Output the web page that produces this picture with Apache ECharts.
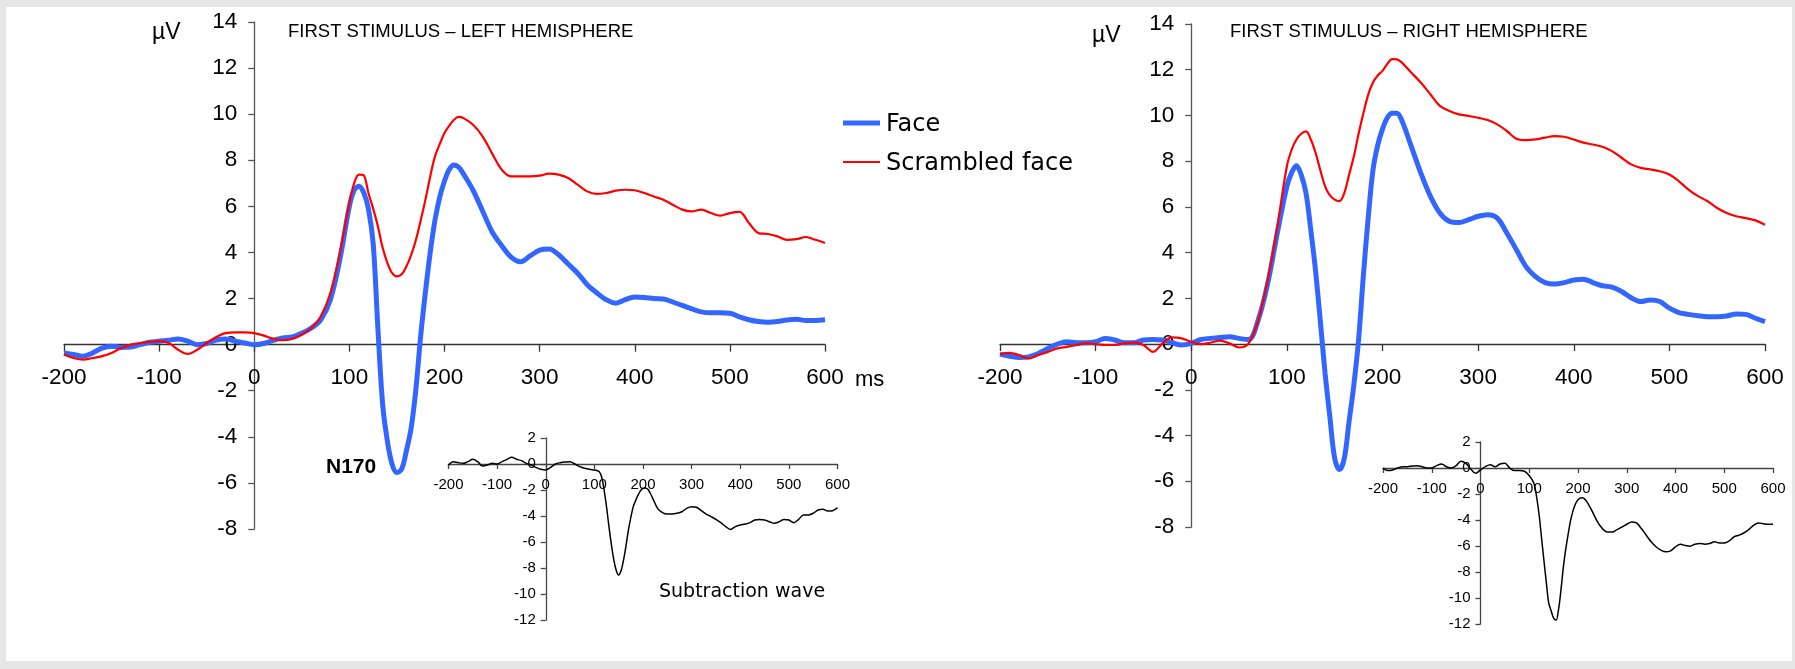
<!DOCTYPE html>
<html>
<head>
<meta charset="utf-8">
<title>ERP – first stimulus</title>
<script src="https://cdn.jsdelivr.net/npm/echarts@6/dist/echarts.min.js"></script>
<style>
  html, body { margin: 0; padding: 0; width: 1795px; height: 669px; overflow: hidden; background: #e6e6e6; }
  #frame { position: absolute; left: 6px; top: 7px; right: 3px; bottom: 8px; background: #ffffff; }
  #chart { position: absolute; left: 0; top: 0; width: 1795px; height: 669px; }
</style>
</head>
<body>
<div id="frame"></div>
<div id="chart"></div>
<script>
// Sample times (ms); denser around the N170 window
const times = [-200,-190,-180,-170,-160,-150,-140,-130,-120,-110,-100,-90,-80,-70,-60,-50,-40,-30,-20,-10,0,10,20,30,40,50,60,70,80,90,
  100,105,110,115,120,125,130,135,140,145,150,155,160,165,170,175,180,185,190,195,200,205,210,215,
  220,230,240,250,260,270,280,290,300,310,320,330,340,350,360,370,380,390,400,410,420,430,440,450,460,470,480,490,500,510,520,530,540,550,560,570,580,590,600];

// Left hemisphere (µV)
const leftFace = [-0.36,-0.43,-0.5,-0.36,-0.15,-0.07,-0.12,-0.1,0,0.1,0.15,0.19,0.25,0.15,0,0.05,0.2,0.25,0.15,0.07,0,0.05,0.19,0.29,0.33,0.5,0.72,1.08,1.95,3.7,
  6.0,6.7,6.87,6.6,5.9,4.4,0.7,-2.6,-4.2,-5.2,-5.55,-5.4,-4.6,-3.6,-1.9,0.4,2.3,4.0,5.4,6.4,7.1,7.6,7.8,7.7,
  7.4,6.7,5.8,4.9,4.3,3.8,3.6,3.85,4.1,4.15,3.9,3.5,3.1,2.6,2.25,1.95,1.8,1.95,2.07,2.05,2.0,1.98,1.85,1.7,1.55,1.42,1.38,1.38,1.36,1.2,1.08,1.0,0.97,1.0,1.07,1.1,1.05,1.05,1.08];
const leftScrambled = [-0.43,-0.58,-0.65,-0.58,-0.5,-0.36,-0.15,0,0.07,0.12,0.15,0.07,-0.22,-0.4,-0.22,0.07,0.33,0.5,0.53,0.53,0.5,0.39,0.25,0.19,0.25,0.43,0.72,1.23,2.24,4.0,
  6.15,7.0,7.38,7.35,6.58,5.9,5.13,4.2,3.54,3.1,2.96,3.05,3.4,3.9,4.55,5.4,6.3,7.3,8.17,8.7,9.18,9.5,9.76,9.88,
  9.83,9.54,9.04,8.3,7.6,7.3,7.3,7.3,7.33,7.42,7.38,7.23,6.94,6.65,6.54,6.58,6.68,6.72,6.7,6.58,6.43,6.29,6.07,5.86,5.78,5.86,5.71,5.6,5.71,5.76,5.28,4.84,4.8,4.7,4.55,4.58,4.67,4.55,4.41];
const leftDiff = [-0.08,0.18,0.1,0.05,0.18,0.36,0.18,-0.15,-0.08,0.05,0,0.18,0.36,0.51,0.36,0.26,0.05,-0.08,-0.26,-0.41,-0.46,-0.26,0,0.1,0.15,0.18,0,-0.2,-0.33,-0.41,
  -0.46,-0.5,-0.59,-1.0,-2.0,-3.3,-4.82,-6.2,-7.38,-8.2,-8.54,-8.2,-7.38,-6.3,-5.08,-4.1,-3.28,-2.8,-2.38,-2.05,-1.87,-1.85,-1.95,-2.25,
  -2.64,-3.41,-3.74,-3.85,-3.85,-3.79,-3.67,-3.41,-3.28,-3.33,-3.59,-3.85,-4.05,-4.26,-4.51,-4.82,-5.03,-4.82,-4.69,-4.62,-4.51,-4.31,-4.26,-4.31,-4.44,-4.56,-4.44,-4.26,-4.31,-4.51,-4.26,-3.92,-3.92,-3.79,-3.54,-3.49,-3.62,-3.59,-3.36];

// Right hemisphere (µV)
const rightFace = [-0.44,-0.53,-0.59,-0.56,-0.41,-0.19,0,0.1,0.06,0.06,0.1,0.25,0.18,0.06,0.06,0.18,0.2,0.18,0.06,-0.04,0.03,0.2,0.25,0.29,0.32,0.25,0.2,1.05,2.66,4.86,
  6.9,7.5,7.8,7.4,6.6,5.0,3.2,1.0,-1.3,-3.2,-5.0,-5.49,-5.0,-3.4,-1.8,0.2,3.0,5.5,7.6,8.7,9.4,9.9,10.1,10.1,
  9.8,8.66,7.49,6.47,5.73,5.37,5.32,5.44,5.59,5.66,5.51,4.86,4.13,3.39,2.95,2.69,2.63,2.69,2.8,2.84,2.69,2.55,2.49,2.3,2.03,1.86,1.93,1.86,1.57,1.38,1.3,1.24,1.2,1.2,1.23,1.32,1.3,1.13,0.98];
const rightScrambled = [-0.44,-0.38,-0.48,-0.63,-0.48,-0.34,-0.19,-0.12,-0.04,0.03,0,-0.04,-0.04,0.03,0.06,-0.04,-0.34,0.03,0.29,0.25,0.1,0,0.06,0.15,0.03,-0.15,0.03,1.05,2.81,5.15,
  7.78,8.5,8.95,9.2,9.3,8.95,8.37,7.6,6.9,6.5,6.32,6.25,6.6,7.4,8.2,9.2,10.1,10.9,11.44,11.75,11.95,12.25,12.46,12.45,
  12.32,11.88,11.44,10.93,10.42,10.2,10.05,9.98,9.9,9.8,9.61,9.32,8.98,8.92,8.95,9.03,9.1,9.07,8.95,8.81,8.73,8.63,8.44,8.15,7.86,7.71,7.64,7.56,7.42,7.12,6.76,6.47,6.25,5.95,5.73,5.59,5.51,5.41,5.22];
const rightDiff = [0,-0.2,-0.15,0,0.1,0.1,0.15,0.18,0.1,0,0,0.18,0.31,0.1,0,0.18,0.51,0.36,-0.08,-0.41,-0.15,0.1,0.25,0.1,0.31,0.36,0,-0.2,-0.2,-0.25,
  -0.59,-0.85,-1.22,-2.2,-3.52,-5.3,-7.08,-8.8,-10.4,-11.0,-11.55,-11.7,-10.9,-9.4,-7.6,-6.2,-5.04,-4.0,-3.26,-2.75,-2.45,-2.3,-2.29,-2.45,
  -2.7,-3.39,-4.15,-4.66,-4.92,-4.92,-4.74,-4.54,-4.33,-4.15,-4.23,-4.66,-5.17,-5.68,-6.06,-6.32,-6.45,-6.37,-6.06,-5.86,-5.96,-6.01,-5.86,-5.81,-5.86,-5.81,-5.68,-5.76,-5.76,-5.61,-5.3,-5.17,-5.0,-4.74,-4.41,-4.23,-4.28,-4.33,-4.33];

const seriesNames = ['Face', 'Scrambled face'];
const panelTitles = ['FIRST STIMULUS \u2013 LEFT HEMISPHERE', 'FIRST STIMULUS \u2013 RIGHT HEMISPHERE'];

// axis ranges
const timeRange = { min: -200, max: 600, interval: 100 };
const mainRange = { min: -8, max: 14, interval: 2 };
const insetRange = { min: -12, max: 2, interval: 2 };

const SANS = '"Liberation Sans", Arial, sans-serif';
const VERDANA = '"DejaVu Sans", Verdana, sans-serif';
const BLUE = '#3366ff';
const RED = '#ff0000';

// plot boxes
const grids = [
  { left: 64, top: 22, width: 761, height: 507 },
  { left: 1000, top: 24, width: 765, height: 503 },
  { left: 448.5, top: 438, width: 389, height: 182 },
  { left: 1383, top: 442, width: 390, height: 182 }
];

const pairs = arr => times.map((t, i) => [t, arr[i]]);

// the axes cross at the origin: shift each axis from the grid edge to zero
const xShift = g => -(grids[g].width * (0 - timeRange.min) / (timeRange.max - timeRange.min));
const yShift = (g, r) => -(grids[g].height * (0 - r.min) / (r.max - r.min));

function xAxisFor(g, r, font, tick, margin, color) {
  return Object.assign({}, timeRange, {
    gridIndex: g, type: 'value', position: 'bottom', offset: yShift(g, r),
    axisLine: { onZero: false, lineStyle: { color: color, width: 1.3 } },
    axisTick: { show: true, length: tick, lineStyle: { color: color, width: 1.3 } },
    axisLabel: { margin: margin, fontSize: font, color: '#000', fontFamily: SANS },
    splitLine: { show: false }
  });
}
function yAxisFor(g, r, font, tick, margin, color) {
  return Object.assign({}, r, {
    gridIndex: g, type: 'value', position: 'left', offset: xShift(g),
    axisLine: { show: true, onZero: false, lineStyle: { color: color, width: 1.3 } },
    axisTick: { show: true, length: tick, lineStyle: { color: color, width: 1.3 } },
    axisLabel: { margin: margin, fontSize: font, color: '#000', fontFamily: SANS },
    splitLine: { show: false }
  });
}
function wave(name, g, arr, color, width) {
  return {
    type: 'line', name: name, xAxisIndex: g, yAxisIndex: g,
    data: pairs(arr), symbol: 'none', showSymbol: false, smooth: 0.35,
    lineStyle: { color: color, width: width }, itemStyle: { color: color },
    emphasis: { disabled: true }, silent: true
  };
}
function label(text, x, y, font) {
  return {
    type: 'text', x: x, y: y, silent: true,
    style: { text: text, font: font, fill: '#000', verticalAlign: 'middle' }
  };
}
function key(x1, x2, y, color, width) {
  return {
    type: 'line', silent: true,
    shape: { x1: x1, y1: y, x2: x2, y2: y },
    style: { stroke: color, lineWidth: width }
  };
}

const chart = echarts.init(document.getElementById('chart'), null, { renderer: 'canvas' });
chart.setOption({
  animation: false,
  backgroundColor: 'transparent',
  grid: grids,
  xAxis: [
    xAxisFor(0, mainRange, 22.5, 7, 22, '#333'),
    xAxisFor(1, mainRange, 22.5, 7, 22, '#333'),
    xAxisFor(2, insetRange, 15, 5, 13, '#444'),
    xAxisFor(3, insetRange, 15, 5, 13, '#444')
  ],
  yAxis: [
    yAxisFor(0, mainRange, 22.5, 6, 17, '#555'),
    yAxisFor(1, mainRange, 22.5, 6, 17, '#555'),
    yAxisFor(2, insetRange, 15, 5, 10, '#444'),
    yAxisFor(3, insetRange, 15, 5, 10, '#444')
  ],
  series: [
    wave(seriesNames[0], 0, leftFace, BLUE, 5),
    wave(seriesNames[1], 0, leftScrambled, RED, 2.2),
    wave(seriesNames[0], 1, rightFace, BLUE, 5),
    wave(seriesNames[1], 1, rightScrambled, RED, 2.2),
    wave('Subtraction wave', 2, leftDiff, '#000', 1.5),
    wave('Subtraction wave', 3, rightDiff, '#000', 1.5)
  ],
  graphic: [
    // key
    key(843, 880, 123, BLUE, 5),
    key(843, 880, 162, RED, 2.2),
    label(seriesNames[0], 886, 125, '24px ' + VERDANA),
    label(seriesNames[1], 886, 164, '24px ' + VERDANA),
    // units, titles and annotations
    label('\u00b5V', 152, 33, '23px ' + SANS),
    label('\u00b5V', 1092, 36, '23px ' + SANS),
    label(panelTitles[0], 288, 32, '18.5px ' + SANS),
    label(panelTitles[1], 1230, 32, '18.5px ' + SANS),
    label('ms', 855, 380, '22px ' + SANS),
    label('N170', 326, 467, 'bold 21px ' + SANS),
    label('Subtraction wave', 659, 592, '19px ' + VERDANA)
  ]
});
</script>
</body>
</html>
